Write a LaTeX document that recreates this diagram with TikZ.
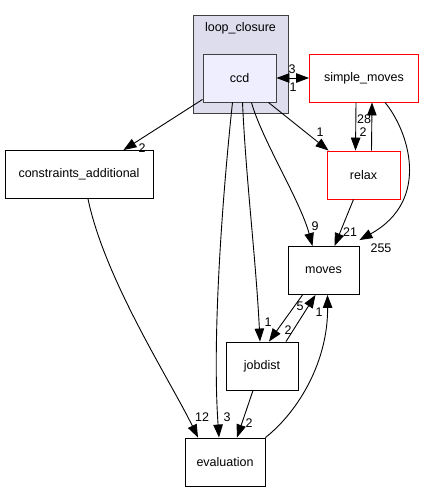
\documentclass[tikz,border=0pt]{standalone}
\usepackage{fontspec}
\setmainfont{Liberation Sans}
\usetikzlibrary{arrows.meta}
\begin{document}
\begin{tikzpicture}[x=1pt,y=-1pt,
  every node/.style={font=\fontsize{12.5}{14}\selectfont},
  box/.style={draw=black,line width=0.9pt,rectangle,inner sep=0pt},
  redbox/.style={draw=red,line width=0.9pt,rectangle,inner sep=0pt},
  dep/.style={draw=black,line width=0.9pt,-{Triangle[length=13pt,width=9.5pt]}},
  bidep/.style={draw=black,line width=0.9pt,{Triangle[length=13pt,width=9.5pt]}-{Triangle[length=13pt,width=9.5pt]}},
  lbl/.style={inner sep=0pt}
]
\useasboundingbox (0,0) rectangle (423,492);
\definecolor{clfill}{HTML}{DDDDEE}
\definecolor{ccdfill}{HTML}{EEEEFF}
\definecolor{bord}{HTML}{404040}
% cluster
\node[box,draw=bord,fill=clfill,minimum width=95pt,minimum height=98pt] (cl) at (240.5,64) {};
\node[lbl] (cltitle) at (240.5,28) {loop\_closure};
% nodes
\node[box,draw=bord,fill=ccdfill,minimum width=73pt,minimum height=48pt] (ccd) at (239.5,78) {ccd};
\node[redbox,minimum width=109pt,minimum height=48pt] (sm) at (364,78) {simple\_moves};
\node[box,minimum width=148pt,minimum height=48pt] (ca) at (79,174.5) {constraints\_additional};
\node[redbox,minimum width=73pt,minimum height=48pt] (relax) at (363.5,175) {relax};
\node[box,minimum width=71pt,minimum height=48pt] (moves) at (323.5,270.5) {moves};
\node[box,minimum width=72pt,minimum height=48pt] (jobdist) at (262,366) {jobdist};
\node[box,minimum width=80pt,minimum height=48pt] (eval) at (225,462) {evaluation};
% edges
\draw[dep] ([yshift=3pt]ccd.south west) -- ([xshift=-30pt]ca.north east);
\node[lbl] (l1) at (142,148) {2};
\draw[bidep] (ccd.east) -- (sm.west);
\node[lbl] (l2) at (292,69) {3};
\node[lbl] (l3) at (293,87) {1};
\draw[dep] ([xshift=-8pt]ccd.south east) -- ([xshift=2pt]relax.north west);
\node[lbl] (l4) at (320,132) {1};
\draw[dep] ([xshift=-25pt]ccd.south east) .. controls (262,140) and (300,200) .. ([xshift=-11pt]moves.north);
\node[lbl] (l5) at (315,226) {9};
\draw[dep] ([xshift=3pt]ccd.south) .. controls (246,180) and (256,260) .. ([xshift=-2pt]jobdist.north);
\node[lbl] (l6) at (268,322) {1};
\draw[dep] ([xshift=-7pt]ccd.south) .. controls (222,200) and (212,340) .. ([xshift=-6pt]eval.north);
\node[lbl] (l7) at (227,417) {3};
\draw[dep] ([xshift=-8pt]sm.south) -- ([xshift=-8pt]relax.north);
\draw[dep] ([xshift=8pt]relax.north) -- ([xshift=8pt]sm.south);
\node[lbl] (l8) at (364,119) {28};
\node[lbl] (l9) at (363,132) {2};
\draw[dep] ([xshift=21pt]sm.south) .. controls (408,130) and (432,200) .. ([yshift=6pt]moves.north east);
\node[lbl] (l10) at (381,248) {255};
\draw[dep] ([xshift=-10pt]relax.south) -- ([xshift=11pt]moves.north);
\node[lbl] (l11) at (350,232) {21};
\draw[dep] ([xshift=-21pt]moves.south) -- ([xshift=7pt]jobdist.north);
\node[lbl] (l12) at (288,330) {2};
\draw[dep] ([xshift=24pt]jobdist.north) -- ([xshift=-8pt]moves.south);
\node[lbl] (l13) at (300,306) {5};
\draw[dep] (eval.north east) .. controls (300,410) and (328,360) .. ([xshift=4pt]moves.south);
\node[lbl] (l14) at (319,312) {1};
\draw[dep] ([xshift=9pt]ca.south) .. controls (105,280) and (170,380) .. ([xshift=-27pt]eval.north);
\node[lbl] (l15) at (202,417) {12};
\draw[dep] ([xshift=-9pt]jobdist.south) -- ([xshift=12pt]eval.north);
\node[lbl] (l16) at (249,423) {2};
\end{tikzpicture}
\end{document}
